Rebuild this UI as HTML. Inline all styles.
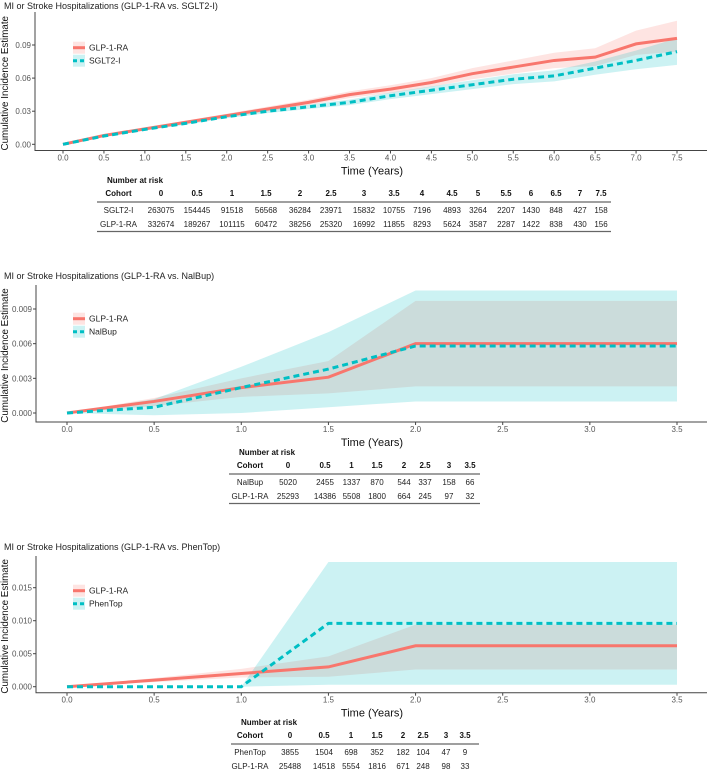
<!DOCTYPE html>
<html><head><meta charset="utf-8"><style>
body{margin:0;background:#fff;width:709px;height:772px;overflow:hidden;font-family:"Liberation Sans",sans-serif}
svg{position:absolute;left:0;top:0}
</style></head><body>
<svg id="s" width="709" height="772" viewBox="0 0 709 772"></svg>
<script>
// ---------- Panel 1 data: GLP-1-RA vs SGLT2-I ----------
const p1Times=[0,0.5,1,1.5,2,2.5,3,3.5,4,4.5,5,5.5,6,6.5,7,7.5];
const p1GlpEst=[0,0.008,0.014,0.020,0.026,0.032,0.038,0.045,0.050,0.056,0.064,0.070,0.076,0.079,0.091,0.096];
const p1GlpLo=[0,0.0072,0.0128,0.0185,0.0243,0.0298,0.0355,0.0420,0.0465,0.0520,0.0590,0.0640,0.0690,0.0710,0.0810,0.0840];
const p1GlpHi=[0,0.0088,0.0152,0.0215,0.0277,0.0342,0.0405,0.0480,0.0535,0.0600,0.0690,0.0760,0.0830,0.0870,0.1030,0.1120];
const p1CmpEst=[0,0.0075,0.0135,0.019,0.025,0.030,0.034,0.038,0.044,0.049,0.054,0.059,0.062,0.069,0.076,0.084];
const p1CmpLo=[0,0.0068,0.0125,0.0178,0.0236,0.0283,0.0320,0.0355,0.0410,0.0455,0.0500,0.0545,0.0570,0.0630,0.0680,0.0720];
const p1CmpHi=[0,0.0082,0.0145,0.0202,0.0264,0.0317,0.0360,0.0405,0.0470,0.0525,0.0580,0.0635,0.0670,0.0750,0.0850,0.0960];
const p1YTicks=[0,0.03,0.06,0.09];
const p1YLabels=["0.00","0.03","0.06","0.09"];
const p1XTicks=[0,0.5,1,1.5,2,2.5,3,3.5,4,4.5,5,5.5,6,6.5,7,7.5];
const p1Cols=["0","0.5","1","1.5","2","2.5","3","3.5","4","4.5","5","5.5","6","6.5","7","7.5"];
const p1RiskCmp=[263075,154445,91518,56568,36284,23971,15832,10755,7196,4893,3264,2207,1430,848,427,158];
const p1RiskGlp=[332674,189267,101115,60472,38256,25320,16992,11855,8293,5624,3587,2287,1422,838,430,156];
// ---------- Panel 2 data: GLP-1-RA vs NalBup ----------
const p2Times=[0,0.5,1,1.5,2,2.5,3,3.5];
const p2GlpEst=[0,0.0010,0.0022,0.0031,0.0060,0.0060,0.0060,0.0060];
const p2GlpLo=[0,0.0006,0.0014,0.0017,0.0023,0.0023,0.0023,0.0023];
const p2GlpHi=[0,0.0013,0.0030,0.0045,0.0097,0.0097,0.0097,0.0097];
const p2CmpEst=[0,0.0005,0.0022,0.0038,0.0058,0.0058,0.0058,0.0058];
const p2CmpLo=[0,-0.0002,0.0000,0.0005,0.0010,0.0010,0.0010,0.0010];
const p2CmpHi=[0,0.0012,0.0040,0.0070,0.0106,0.0106,0.0106,0.0106];
const p2YTicks=[0,0.003,0.006,0.009];
const p2YLabels=["0.000","0.003","0.006","0.009"];
const p2XTicks=[0,0.5,1,1.5,2,2.5,3,3.5];
const p2Cols=["0","0.5","1","1.5","2","2.5","3","3.5"];
const p2RiskCmp=[5020,2455,1337,870,544,337,158,66];
const p2RiskGlp=[25293,14386,5508,1800,664,245,97,32];
// ---------- Panel 3 data: GLP-1-RA vs PhenTop ----------
const p3Times=[0,0.5,1,1.5,2,2.5,3,3.5];
const p3GlpEst=[0,0.0010,0.0020,0.0030,0.0062,0.0062,0.0062,0.0062];
const p3GlpLo=[0,0.0007,0.0014,0.0015,0.0026,0.0026,0.0026,0.0026];
const p3GlpHi=[0,0.0013,0.0027,0.0046,0.0094,0.0094,0.0094,0.0094];
const p3CmpEst=[0,0,0,0.0096,0.0096,0.0096,0.0096,0.0096];
const p3CmpLo=[0,0,0,0.0003,0.0003,0.0003,0.0003,0.0003];
const p3CmpHi=[0,0,0,0.0189,0.0189,0.0189,0.0189,0.0189];
const p3YTicks=[0,0.005,0.01,0.015];
const p3YLabels=["0.000","0.005","0.010","0.015"];
const p3XTicks=[0,0.5,1,1.5,2,2.5,3,3.5];
const p3Cols=["0","0.5","1","1.5","2","2.5","3","3.5"];
const p3RiskCmp=[3855,1504,698,352,182,104,47,9];
const p3RiskGlp=[25488,14518,5554,1816,671,248,98,33];

const NS="http://www.w3.org/2000/svg";
const svg=document.getElementById('s');
function mk(tag,attrs,parent){const e=document.createElementNS(NS,tag);for(const k in attrs)e.setAttribute(k,attrs[k]);(parent||svg).appendChild(e);return e;}
function txt(x,y,s,attrs,parent){const e=mk('text',Object.assign({x:x,y:y},attrs),parent);e.textContent=s;return e;}
const RED="#F8766D",TEAL="#00BFC4";

function panel(o){
  const g=mk('g',{});
  
  
  const xS=v=>o.x0+(v-o.xmin)/(o.xmax-o.xmin)*(o.x1-o.x0);
  const yS=v=>o.y0+(v-o.ymin)/(o.ymax-o.ymin)*(o.y1-o.y0);
  const t=txt(4,o.titleY,o.title,{'font-size':9,fill:'#222'},g);
  
  
  function band(lo,hi,color,nm){
    let d='M'+o.times.map((tt,i)=>xS(tt)+','+yS(hi[i])).join('L');
    d+='L'+o.times.map((tt,i)=>[tt,i]).reverse().map(([tt,i])=>xS(tt)+','+yS(lo[i])).join('L')+'Z';
    const p=mk('path',{d:d,fill:color,'fill-opacity':0.2},g);
    
    
  }
  function line(est,color,dash,nm){
    const p=mk('polyline',{points:o.times.map((tt,i)=>xS(tt)+','+yS(est[i])).join(' '),fill:'none',stroke:color,'stroke-width':3,'stroke-dasharray':dash||'none'},g);
    
    
  }
  band(o.glpLo,o.glpHi,RED,'glp-ci-band');
  band(o.cmpLo,o.cmpHi,TEAL,'comparator-ci-band');
  line(o.glpEst,RED,null,'glp-line');
  line(o.cmpEst,TEAL,'6,4','comparator-line');
  const ax=mk('path',{d:`M${o.axL},${o.axTop}V${o.axB}H707`,fill:'none',stroke:'#444','stroke-width':1},g);
  
  
  o.yTicks.forEach((v,i)=>{
    mk('line',{x1:o.axL-3,x2:o.axL,y1:yS(v),y2:yS(v),stroke:'#444'},g);
    const l=txt(o.axL-4,yS(v)+3,o.yLabels[i],{'font-size':8,fill:'#555','text-anchor':'end'},g);
    
    
  });
  o.xTicks.forEach(v=>{
    mk('line',{x1:xS(v),x2:xS(v),y1:o.axB,y2:o.axB+3,stroke:'#444'},g);
    const l=txt(xS(v),o.axB+10,v.toFixed(1),{'font-size':8,fill:'#555','text-anchor':'middle'},g);
    
    
  });
  const xt=txt(372,o.axB+24,'Time (Years)',{'font-size':11,fill:'#111','text-anchor':'middle'},g);
  
  
  const cy=(o.axTop+o.axB)/2+2;
  const yt=txt(8,cy,'Cumulative Incidence Estimate',{'font-size':9.8,fill:'#111','text-anchor':'middle',transform:`rotate(-90 8 ${cy})`},g);
  
  
  [[o.legY1,RED,'GLP-1-RA',null],[o.legY2,TEAL,o.cmpName,'4,3']].forEach(([ly,c,nm,dash])=>{
    const lg=mk('g',{},g);
    
    
    mk('rect',{x:73,y:ly-6,width:12,height:12,fill:c,'fill-opacity':0.2},lg);
    mk('line',{x1:73,x2:85,y1:ly,y2:ly,stroke:c,'stroke-width':3,'stroke-dasharray':dash||'none'},lg);
    txt(89,ly+3,nm,{'font-size':8.5,fill:'#222'},lg);
  });
  const tb=mk('g',{},g);
  
  
  txt(o.tL+10,o.tY,'Number at risk',{'font-size':8,'font-weight':'bold',fill:'#111'},tb);
  txt(o.cohortX,o.tY+13,'Cohort',{'font-size':8,'font-weight':'bold',fill:'#111','text-anchor':'middle'},tb);
  o.cols.forEach((c,i)=>txt(o.colX[i],o.tY+13,c,{'font-size':8,'font-weight':'bold',fill:'#111','text-anchor':'middle'},tb));
  mk('line',{x1:o.tL,x2:o.tR,y1:o.tY+19,y2:o.tY+19,stroke:'#666','stroke-width':1.2},tb);
  txt(o.cohortX,o.tY+30,o.cmpName,{'font-size':8,fill:'#222','text-anchor':'middle'},tb);
  txt(o.cohortX,o.tY+44,'GLP-1-RA',{'font-size':8,fill:'#222','text-anchor':'middle'},tb);
  o.riskCmp.forEach((v,i)=>txt(o.colX[i],o.tY+30,v,{'font-size':8,fill:'#222','text-anchor':'middle'},tb));
  o.riskGlp.forEach((v,i)=>txt(o.colX[i],o.tY+44,v,{'font-size':8,fill:'#222','text-anchor':'middle'},tb));
  mk('line',{x1:o.tL,x2:o.tR,y1:o.tY+48.5,y2:o.tY+48.5,stroke:'#666','stroke-width':1.2},tb);
}

panel({name:'panel-sglt2i',title:'MI or Stroke Hospitalizations (GLP-1-RA vs. SGLT2-I)',titleY:9,cmpName:'SGLT2-I',
  times:p1Times,glpEst:p1GlpEst,glpLo:p1GlpLo,glpHi:p1GlpHi,cmpEst:p1CmpEst,cmpLo:p1CmpLo,cmpHi:p1CmpHi,
  xmin:0,xmax:7.5,x0:63,x1:677,ymin:0,ymax:0.09,y0:144.3,y1:45,
  axL:35,axTop:12,axB:150.5,yTicks:p1YTicks,yLabels:p1YLabels,xTicks:p1XTicks,legY1:47.7,legY2:60.7,
  tY:183,tL:97,tR:611,cohortX:118.5,cols:p1Cols,
  colX:[161,197,232,266,300,331,364,394,422,452,478,506,531,556,580,601],riskCmp:p1RiskCmp,riskGlp:p1RiskGlp});
panel({name:'panel-nalbup',title:'MI or Stroke Hospitalizations (GLP-1-RA vs. NalBup)',titleY:279,cmpName:'NalBup',
  times:p2Times,glpEst:p2GlpEst,glpLo:p2GlpLo,glpHi:p2GlpHi,cmpEst:p2CmpEst,cmpLo:p2CmpLo,cmpHi:p2CmpHi,
  xmin:0,xmax:3.5,x0:67,x1:677,ymin:0,ymax:0.009,y0:413,y1:309,
  axL:36,axTop:285,axB:422,yTicks:p2YTicks,yLabels:p2YLabels,xTicks:p2XTicks,legY1:318.7,legY2:331.7,
  tY:455,tL:229,tR:480,cohortX:250,cols:p2Cols,
  colX:[288,325,351.5,377,404,425,449,470],riskCmp:p2RiskCmp,riskGlp:p2RiskGlp});
panel({name:'panel-phentop',title:'MI or Stroke Hospitalizations (GLP-1-RA vs. PhenTop)',titleY:550,cmpName:'PhenTop',
  times:p3Times,glpEst:p3GlpEst,glpLo:p3GlpLo,glpHi:p3GlpHi,cmpEst:p3CmpEst,cmpLo:p3CmpLo,cmpHi:p3CmpHi,
  xmin:0,xmax:3.5,x0:67,x1:677,ymin:0,ymax:0.015,y0:686.7,y1:587.7,
  axL:36,axTop:556,axB:692.7,yTicks:p3YTicks,yLabels:p3YLabels,xTicks:p3XTicks,legY1:590.7,legY2:603.7,
  tY:725,tL:231,tR:479,cohortX:250,cols:p3Cols,
  colX:[290,324,351,377,403,423,446,465],riskCmp:p3RiskCmp,riskGlp:p3RiskGlp});
</script>
</body></html>
